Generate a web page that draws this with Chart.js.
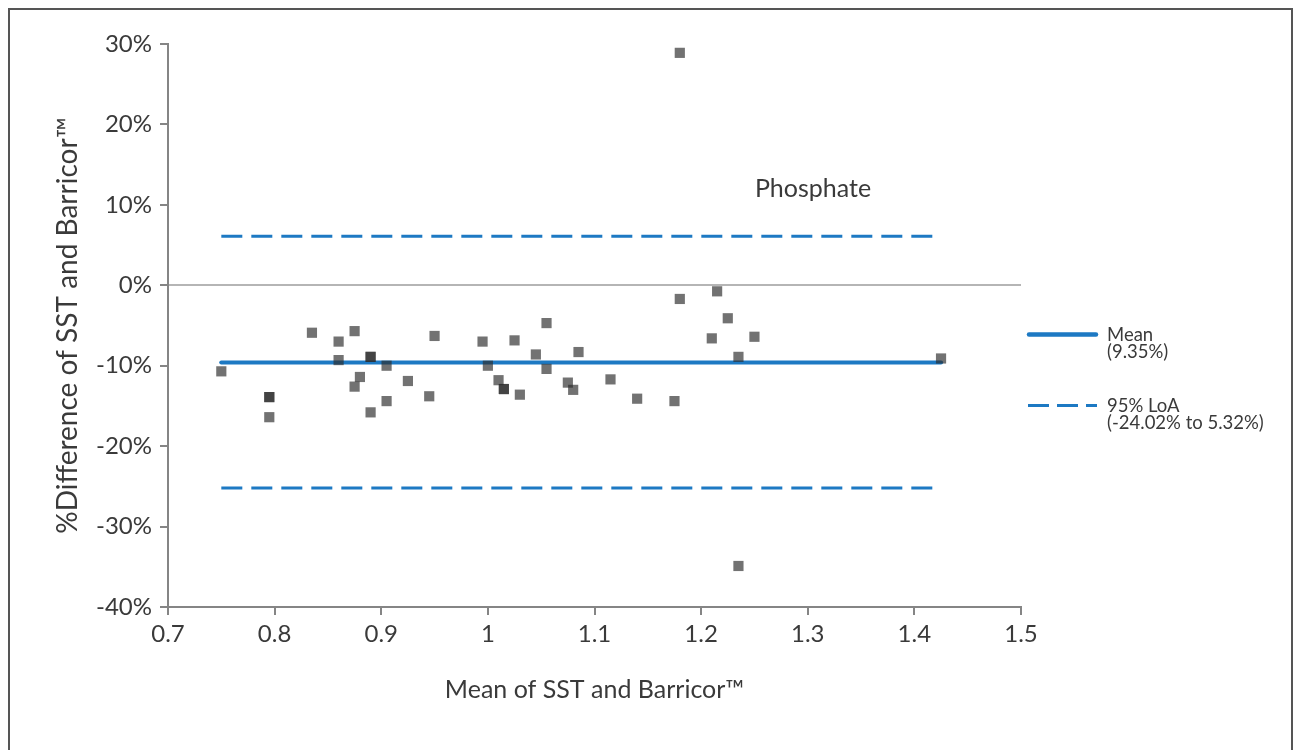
<!DOCTYPE html>
<html>
<head>
<meta charset="utf-8">
<script src="https://cdn.jsdelivr.net/npm/chart.js@4"></script>
<style>
  html, body { margin: 0; padding: 0; background: #fff; }
  #wrap { position: relative; width: 1298px; height: 750px; overflow: hidden; }
  #frame { position: absolute; left: 8px; top: 8px; width: 1285px; height: 760px; border: 2px solid #555; box-sizing: border-box; }
  canvas { position: absolute; left: 0; top: 0; }
</style>
</head>
<body>
<div id="wrap">
  <div id="frame"></div>
  <canvas id="c" width="1298" height="750"></canvas>
</div>
<script>
// Data
const meanX = [0.75, 0.795, 0.795, 0.795, 0.835, 0.86, 0.86, 0.875, 0.88, 0.875, 0.89, 0.89, 0.89, 0.905, 0.905, 0.925, 0.945, 0.95,
               0.995, 1.0, 1.01, 1.015, 1.015, 1.025, 1.03, 1.045, 1.055, 1.055, 1.075, 1.08, 1.085, 1.115, 1.14,
               1.175, 1.18, 1.18, 1.21, 1.215, 1.225, 1.235, 1.235, 1.25, 1.425];
const pctDiff = [-10.7, -13.9, -13.9, -16.4, -5.9, -7.0, -9.3, -5.7, -11.4, -12.6, -8.9, -8.9, -15.8, -10.0, -14.4, -11.9, -13.8, -6.3,
                 -7.0, -10.0, -11.8, -12.9, -12.9, -6.85, -13.6, -8.6, -4.7, -10.4, -12.1, -13.0, -8.3, -11.7, -14.1,
                 -14.4, -1.7, 28.9, -6.6, -0.75, -4.1, -8.9, -34.9, -6.4, -9.1];
const lineX = [0.75, 1.425];
const meanLineY = [-9.6, -9.6];
const upperLoAY = [6.1, 6.1];
const lowerLoAY = [-25.2, -25.2];
const xTicks = [0.7, 0.8, 0.9, 1.0, 1.1, 1.2, 1.3, 1.4, 1.5];
const yTicks = [-40, -30, -20, -10, 0, 10, 20, 30];
const legendLabels = [["Mean", "(9.35%)"], ["95% LoA", "(-24.02% to 5.32%)"]];
const annotationText = "Phosphate";

const BLUE = '#1d79c3';
const TEXT = '#3a3a3a';
const AXIS = '#858585';
const FONT = 'Lato';

Chart.defaults.font.family = FONT;
Chart.defaults.color = TEXT;

const pts = meanX.map((x, i) => ({x, y: pctDiff[i]}));
const mkLine = (ys) => lineX.map((x, i) => ({x, y: ys[i]}));

const overlay = {
  id: 'overlay',
  afterDraw(chart) {
    const ctx = chart.ctx;
    ctx.save();
    ctx.fillStyle = TEXT;
    ctx.font = '25px ' + FONT;
    ctx.textAlign = 'center';
    ctx.textBaseline = 'middle';
    ctx.fillText(annotationText, 813, 189);
    // legend
    ctx.lineCap = 'round';
    ctx.strokeStyle = BLUE;
    ctx.lineWidth = 4.5;
    ctx.beginPath(); ctx.moveTo(1029, 334.5); ctx.lineTo(1096, 334.5); ctx.stroke();
    ctx.lineCap = 'butt';
    ctx.lineWidth = 3;
    ctx.setLineDash([21, 8]);
    ctx.beginPath(); ctx.moveTo(1028, 405.5); ctx.lineTo(1097, 405.5); ctx.stroke();
    ctx.setLineDash([]);
    ctx.font = '18.5px ' + FONT;
    ctx.textAlign = 'left';
    ctx.textBaseline = 'alphabetic';
    ctx.fillText(legendLabels[0][0], 1107, 341);
    ctx.fillText(legendLabels[0][1], 1107, 358);
    ctx.fillText(legendLabels[1][0], 1107, 412);
    ctx.fillText(legendLabels[1][1], 1107, 429);
    ctx.restore();
  }
};

new Chart(document.getElementById('c'), {
  type: 'scatter',
  data: {
    datasets: [
      {
        label: 'Points',
        data: pts,
        pointStyle: 'rect',
        pointRadius: 7.2,
        pointHoverRadius: 7.2,
        backgroundColor: 'rgba(45,45,45,0.67)',
        borderWidth: 0
      },
      {
        label: 'Mean',
        data: mkLine(meanLineY),
        showLine: true,
        borderColor: BLUE,
        borderWidth: 4.2,
        pointRadius: 0,
        borderCapStyle: 'round'
      },
      {
        label: 'Upper LoA',
        data: mkLine(upperLoAY),
        showLine: true,
        borderColor: BLUE,
        borderWidth: 3,
        borderDash: [21, 9],
        pointRadius: 0
      },
      {
        label: 'Lower LoA',
        data: mkLine(lowerLoAY),
        showLine: true,
        borderColor: BLUE,
        borderWidth: 3,
        borderDash: [21, 9],
        pointRadius: 0
      }
    ]
  },
  options: {
    responsive: false,
    animation: false,
    events: [],
    layout: { padding: { left: 0, top: 44, right: 277, bottom: 0 } },
    plugins: { legend: { display: false }, tooltip: { enabled: false } },
    scales: {
      x: {
        type: 'linear',
        min: xTicks[0],
        max: xTicks[xTicks.length - 1],
        afterBuildTicks(scale) { scale.ticks = xTicks.map(v => ({value: v})); },
        afterFit(scale) { scale.height = 143; },
        border: { color: AXIS, width: 2 },
        grid: { drawOnChartArea: false, color: AXIS, tickColor: AXIS, tickLength: 8, lineWidth: 2 },
        ticks: {
          padding: 5,
          color: TEXT,
          font: { size: 24 },
          callback: (v) => String(Number(v.toFixed(1)))
        },
        title: {
          display: true,
          text: 'Mean of SST and Barricor™',
          color: TEXT,
          font: { size: 25 },
          padding: { top: 0, bottom: 45 }
        }
      },
      y: {
        type: 'linear',
        min: yTicks[0],
        max: yTicks[yTicks.length - 1],
        afterBuildTicks(scale) { scale.ticks = yTicks.map(v => ({value: v})); },
        afterFit(scale) { scale.width = 168; },
        border: { color: AXIS, width: 2 },
        grid: {
          drawOnChartArea: true,
          color: (c) => (c.tick && c.tick.value === 0) ? '#b5b5b5' : 'rgba(0,0,0,0)',
          tickColor: AXIS,
          tickLength: 8,
          lineWidth: 2
        },
        ticks: {
          padding: 8,
          color: TEXT,
          font: { size: 24 },
          callback: (v) => v + '%'
        },
        title: {
          display: true,
          text: '%Difference of SST and Barricor™',
          color: TEXT,
          font: { size: 28 },
          padding: { top: 51, bottom: 0 }
        }
      }
    }
  },
  plugins: [overlay]
});
</script>
</body>
</html>
